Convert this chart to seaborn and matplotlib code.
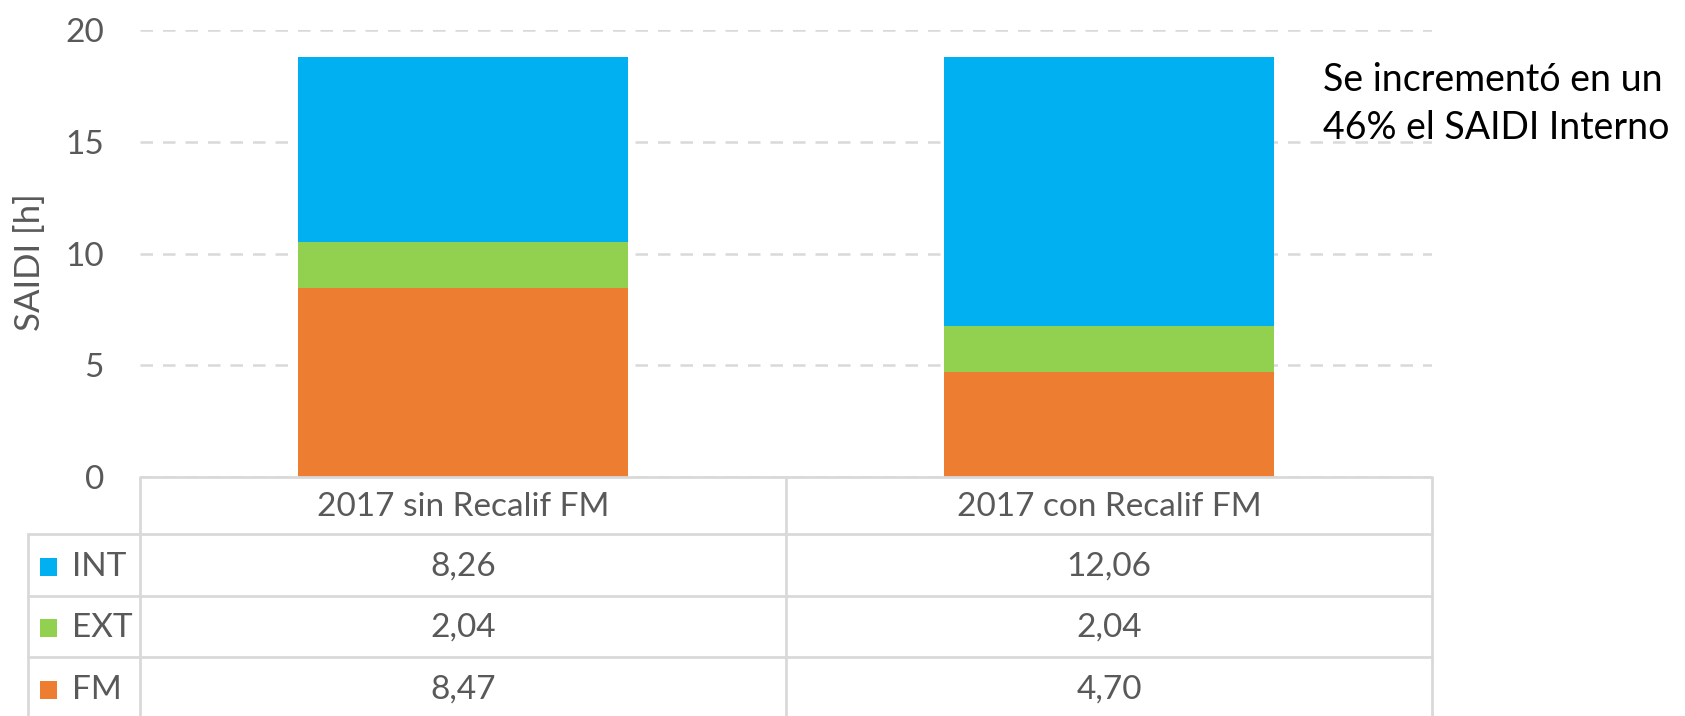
import matplotlib
matplotlib.use("Agg")
import matplotlib.pyplot as plt
import seaborn as sns
import pandas as pd
from matplotlib.transforms import blended_transform_factory

# ---------------- data ----------------
categories = ["2017 sin Recalif FM", "2017 con Recalif FM"]
series = ["INT", "EXT", "FM"]            # table order (top to bottom)
int_vals = [8.26, 12.06]
ext_vals = [2.04, 2.04]
fm_vals = [8.47, 4.70]
y_ticks = [0, 5, 10, 15, 20]
y_label = "SAIDI [h]"
note_lines = ["Se incrementó en un", "46% el SAIDI Interno"]

values = {"INT": int_vals, "EXT": ext_vals, "FM": fm_vals}
colors = {"INT": "#00B0F0", "EXT": "#92D050", "FM": "#ED7D31"}
stack_order = ["FM", "EXT", "INT"]       # bottom to top

df = pd.DataFrame({
    "category": categories * len(series),
    "series": [s for s in series for _ in categories],
    "value": [v for s in series for v in values[s]],
})

# ---------------- style ----------------
sns.set_theme(style="white")
plt.rcParams["font.family"] = ["Lato", "DejaVu Sans"]
TXT = "#595959"
GRID = "#D9D9D9"
FS = 24

W, H = 1685, 716
fig = plt.figure(figsize=(W / 100, H / 100), dpi=100)
ax_left, ax_right, ax_top, ax_bottom = 140, 1432, 30, 477
ax = fig.add_axes([ax_left / W, 1 - ax_bottom / H,
                   (ax_right - ax_left) / W, (ax_bottom - ax_top) / H])

bottom = [0.0] * len(categories)
for s in stack_order:
    sub = df[df["series"] == s]
    sns.barplot(data=sub, x="category", y="value", order=categories,
                color=colors[s], saturation=1, width=0.51, errorbar=None,
                linewidth=0, bottom=list(bottom), ax=ax)
    bottom = [b + v for b, v in zip(bottom, values[s])]

ax.set_xlim(-0.5, len(categories) - 0.5)
ax.set_ylim(y_ticks[0], y_ticks[-1])
ax.set_yticks(y_ticks)
ax.set_yticklabels([str(t) for t in y_ticks])
ax.set_xticks([])
ax.set_xlabel("")
ax.set_ylabel("")
ax.tick_params(axis="y", length=0, pad=26, labelsize=FS, labelcolor=TXT)
for sp in ax.spines.values():
    sp.set_visible(False)
ax.yaxis.grid(True, color=GRID, linestyle=(0, (5, 4)), linewidth=1.8)
ax.set_axisbelow(True)

fig.text(30 / W, 1 - 262 / H, y_label, rotation=90, ha="center", va="center",
         fontsize=FS + 1, color=TXT)

# annotation
for line, base in zip(note_lines, [91, 139]):
    fig.text(1323 / W, 1 - base / H, line, ha="left", va="baseline",
             fontsize=27, color="black")

# ---------------- data table ----------------
tr = blended_transform_factory(ax.transData, fig.transFigure)
ftr = fig.transFigure
def fy(px):
    return 1 - px / H
def fx(px):
    return px / W

row_edges = [477, 534, 596, 657, 716]
header_c = 507
row_c = [567, 628, 690]
lw = 2.0
x0, x1 = -0.5, len(categories) - 0.5
leg_left = 28

# horizontal lines
ax.plot([x0, x1], [fy(row_edges[0])] * 2, transform=tr, color=GRID, lw=lw,
        clip_on=False, solid_capstyle="butt")
for e in row_edges[1:4]:
    fig.add_artist(plt.Line2D([fx(leg_left), fx(ax_right)], [fy(e)] * 2,
                              transform=ftr, color=GRID, lw=lw))
# vertical lines
for i in range(len(categories) + 1):
    xv = -0.5 + i
    ax.plot([xv, xv], [fy(row_edges[0]), fy(H + 5)], transform=tr, color=GRID,
            lw=lw, clip_on=False)
fig.add_artist(plt.Line2D([fx(leg_left)] * 2, [fy(row_edges[1]), fy(H + 5)],
                          transform=ftr, color=GRID, lw=lw))

# header
for i, c in enumerate(categories):
    ax.text(i, fy(header_c), c, transform=tr, ha="center", va="center",
            fontsize=FS, color=TXT)

# rows
for r, s in enumerate(series):
    yc = row_c[r]
    fig.add_artist(plt.Rectangle((fx(40), fy(yc + 9)), 17 / W, 18 / H,
                                 transform=ftr, color=colors[s], lw=0))
    fig.text(fx(72), fy(yc), s, ha="left", va="center", fontsize=FS, color=TXT)
    for i, v in enumerate(values[s]):
        ax.text(i, fy(yc), f"{v:.2f}".replace(".", ","), transform=tr,
                ha="center", va="center", fontsize=FS, color=TXT)

fig.savefig("out.png", dpi=100)
